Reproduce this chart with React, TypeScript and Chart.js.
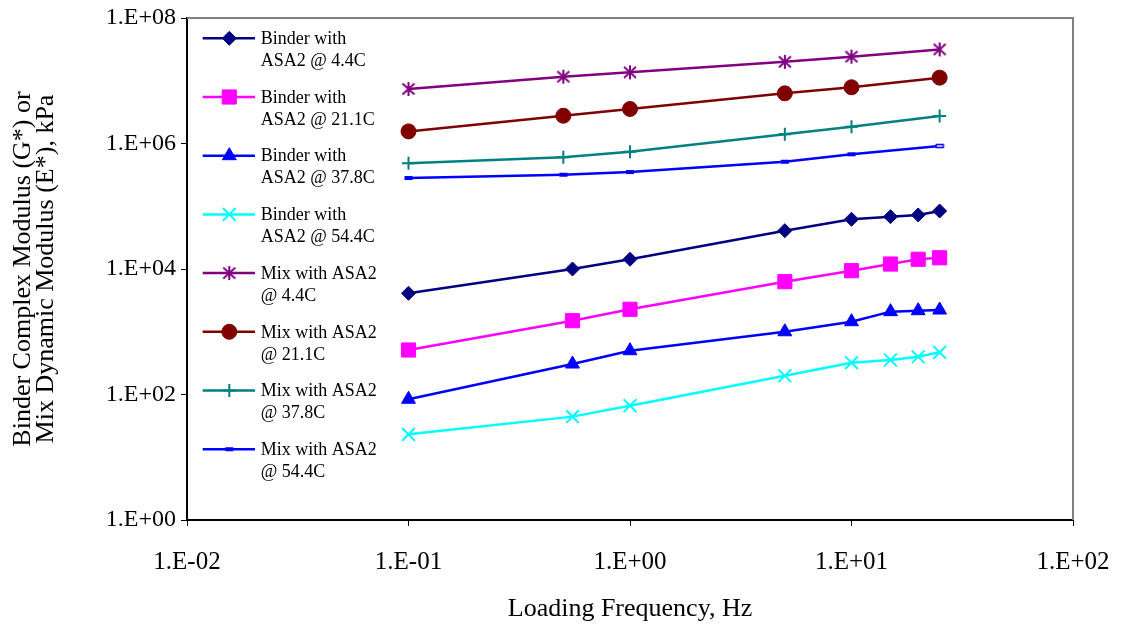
import React, { useEffect, useRef } from 'react';
import { Chart, registerables } from 'chart.js';
import { drawPoint } from 'chart.js/helpers';

Chart.register(...registerables);

const FONT = "'Times New Roman', 'Liberation Serif', serif";

// Frequencies (Hz)
const binderFreq = [0.1, 0.55, 1, 5, 10, 15, 20, 25];
const mixFreq = [0.1, 0.5, 1, 5, 10, 25];

// Moduli (kPa)
const binder44 = [4100, 10000, 14300, 40800, 62000, 68200, 72700, 84000];
const binder211 = [512, 1500, 2280, 6280, 9400, 12000, 14300, 15100];
const binder378 = [84, 306, 499, 1000, 1445, 2090, 2165, 2220];
const binder544 = [23.2, 44.4, 66.4, 199, 321, 355, 399, 470];
const mix44 = [7.4e6, 1.16e7, 1.36e7, 2.0e7, 2.42e7, 3.16e7];
const mix211 = [1.56e6, 2.77e6, 3.55e6, 6.3e6, 7.87e6, 1.12e7];
const mix378 = [4.83e5, 6.03e5, 7.4e5, 1.4e6, 1.85e6, 2.75e6];
const mix544 = [2.82e5, 3.18e5, 3.51e5, 5.13e5, 6.73e5, 9.12e5];

const seriesLabels = [
  ['Binder with', 'ASA2 @ 4.4C'],
  ['Binder with', 'ASA2 @ 21.1C'],
  ['Binder with', 'ASA2 @ 37.8C'],
  ['Binder with', 'ASA2 @ 54.4C'],
  ['Mix with ASA2', '@ 4.4C'],
  ['Mix with ASA2', '@ 21.1C'],
  ['Mix with ASA2', '@ 37.8C'],
  ['Mix with ASA2', '@ 54.4C'],
];

const xTickValues = [0.01, 0.1, 1, 10, 100];
const yTickValues = [1, 1e2, 1e4, 1e6, 1e8];

const xTitle = 'Loading Frequency, Hz';
const yTitle = ['Binder Complex Modulus (G*) or', 'Mix Dynamic Modulus (E*), kPa'];

function fmtSci(v: number) {
  const e = Math.round(Math.log10(v));
  return '1.E' + (e < 0 ? '-' : '+') + String(Math.abs(e)).padStart(2, '0');
}

function makeStar(color: string) {
  const c = document.createElement('canvas');
  c.width = 18; c.height = 18;
  const g = c.getContext('2d')!;
  g.strokeStyle = color; g.lineWidth = 2; g.lineCap = 'butt';
  const m = 9;
  g.beginPath();
  g.moveTo(m, m - 7); g.lineTo(m, m + 7);
  g.moveTo(m - 6, m - 5.5); g.lineTo(m + 6, m + 5.5);
  g.moveTo(m + 6, m - 5.5); g.lineTo(m - 6, m + 5.5);
  g.stroke();
  return c;
}

function makeDash(color: string, hollow: boolean) {
  const c = document.createElement('canvas');
  c.width = 10; c.height = 6;
  const g = c.getContext('2d')!;
  if (hollow) {
    g.fillStyle = '#fff'; g.fillRect(1, 1, 8, 4);
    g.strokeStyle = color; g.lineWidth = 1.5; g.strokeRect(1.5, 1.5, 7, 3);
  } else {
    g.fillStyle = color; g.fillRect(1, 1, 8, 4);
  }
  return c;
}

export default function App() {
  const ref = useRef<HTMLCanvasElement>(null);
  useEffect(() => {
    const canvas = ref.current!;
    const star = makeStar('#800080');
    const dash = makeDash('#0000FF', false);
    const dashHollow = makeDash('#0000FF', true);

    const mk = (xs: number[], ys: number[]) => xs.map((x, i) => ({ x, y: ys[i] }));

    const datasets: any[] = [
      { data: mk(binderFreq, binder44), color: '#000080', pointStyle: 'rectRot', pointRadius: 7, pointBorderWidth: 1 },
      { data: mk(binderFreq, binder211), color: '#FF00FF', pointStyle: 'rect', pointRadius: 10, pointBorderWidth: 1 },
      { data: mk(binderFreq, binder378), color: '#0000FF', pointStyle: 'triangle', pointRadius: 8, pointBorderWidth: 1 },
      { data: mk(binderFreq, binder544), color: '#00FFFF', pointStyle: 'crossRot', pointRadius: 9, pointBorderWidth: 2 },
      { data: mk(mixFreq, mix44), color: '#800080', pointStyle: star, pointRadius: 7, pointBorderWidth: 2 },
      { data: mk(mixFreq, mix211), color: '#800000', pointStyle: 'circle', pointRadius: 7.5, pointBorderWidth: 1 },
      { data: mk(mixFreq, mix378), color: '#008080', pointStyle: 'cross', pointRadius: 6.5, pointBorderWidth: 2 },
      { data: mk(mixFreq, mix544), color: '#0000FF', pointStyle: [dash, dash, dash, dash, dash, dashHollow], pointRadius: 5, pointBorderWidth: 1 },
    ].map((d, i) => ({
      label: seriesLabels[i].join(' '),
      data: d.data,
      borderColor: d.color,
      backgroundColor: d.color,
      pointBackgroundColor: d.color,
      pointBorderColor: d.color,
      pointStyle: d.pointStyle,
      pointRadius: d.pointRadius,
      pointBorderWidth: d.pointBorderWidth,
      borderWidth: 2.5,
      tension: 0,
      fill: false,
    }));

    const frameAndLegend = {
      id: 'frameAndLegend',
      beforeDatasetsDraw(chart: any) {
        const { ctx, chartArea: a } = chart;
        ctx.save();
        ctx.strokeStyle = '#808080';
        ctx.lineWidth = 2;
        ctx.beginPath();
        ctx.moveTo(a.left, a.top);
        ctx.lineTo(a.right, a.top);
        ctx.lineTo(a.right, a.bottom);
        ctx.stroke();
        ctx.restore();
      },
      afterDraw(chart: any) {
        const { ctx, chartArea: a } = chart;
        ctx.save();
        chart.data.datasets.forEach((ds: any, i: number) => {
          const y = a.top + 20.3 + 58.7 * i;
          const x0 = a.left + 15.7;
          const x1 = a.left + 68;
          const xm = a.left + 42.3;
          ctx.strokeStyle = ds.borderColor;
          ctx.lineWidth = 2.5;
          ctx.beginPath();
          ctx.moveTo(x0, y);
          ctx.lineTo(x1, y);
          ctx.stroke();
          const ps = Array.isArray(ds.pointStyle) ? ds.pointStyle[0] : ds.pointStyle;
          ctx.fillStyle = ds.pointBackgroundColor;
          ctx.strokeStyle = ds.pointBorderColor;
          ctx.lineWidth = ds.pointBorderWidth;
          drawPoint(ctx, { pointStyle: ps, radius: ds.pointRadius, rotation: 0, borderWidth: ds.pointBorderWidth } as any, xm, y);
          ctx.fillStyle = '#000';
          ctx.font = `18px ${FONT}`;
          ctx.textAlign = 'left';
          ctx.textBaseline = 'middle';
          seriesLabels[i].forEach((t, k) => ctx.fillText(t, a.left + 73.7, y + 1 + k * 22));
        });
        ctx.restore();
      },
    };

    const chart = new Chart(canvas, {
      type: 'line',
      data: { datasets },
      plugins: [frameAndLegend],
      options: {
        animation: false,
        responsive: false,
        devicePixelRatio: 1,
        layout: { padding: { left: 0, top: 18, right: 50, bottom: 0 } },
        plugins: { legend: { display: false }, tooltip: { enabled: false } },
        scales: {
          x: {
            type: 'logarithmic',
            min: 0.01,
            max: 100,
            afterBuildTicks: (s: any) => { s.ticks = xTickValues.map((v) => ({ value: v })); },
            afterFit: (s: any) => { s.height = 107; s.paddingLeft = 0; s.paddingRight = 0; },
            ticks: {
              callback: (v: any) => fmtSci(Number(v)),
              font: { family: FONT, size: 25 },
              color: '#000',
              padding: 21,
              maxRotation: 0,
              autoSkip: false,
            },
            grid: { drawOnChartArea: false, drawTicks: true, tickLength: 6, color: '#000', lineWidth: 1 },
            border: { display: true, color: '#000', width: 2 },
            title: { display: true, text: xTitle, color: '#000', font: { family: FONT, size: 26 }, padding: { top: 0, bottom: 2.5 } },
          },
          y: {
            type: 'logarithmic',
            min: 1,
            max: 1e8,
            afterBuildTicks: (s: any) => { s.ticks = yTickValues.map((v) => ({ value: v })); },
            afterFit: (s: any) => { s.width = 187; s.paddingTop = 0; s.paddingBottom = 0; },
            ticks: {
              callback: (v: any) => fmtSci(Number(v)),
              font: { family: FONT, size: 24 },
              color: '#000',
              padding: 5,
              autoSkip: false,
            },
            grid: { drawOnChartArea: false, drawTicks: true, tickLength: 6, color: '#000', lineWidth: 1 },
            border: { display: true, color: '#000', width: 2 },
            title: { display: true, text: yTitle, color: '#000', font: { family: FONT, size: 26, lineHeight: 0.9 }, padding: { top: 11, bottom: 0 } },
          },
        },
      } as any,
    });
    return () => chart.destroy();
  }, []);

  return (
    <div style={{ position: 'absolute', left: 0, top: 0, width: 1123, height: 627, background: '#fff' }}>
      <canvas ref={ref} width={1123} height={627} style={{ display: 'block', width: 1123, height: 627 }} />
    </div>
  );
}
